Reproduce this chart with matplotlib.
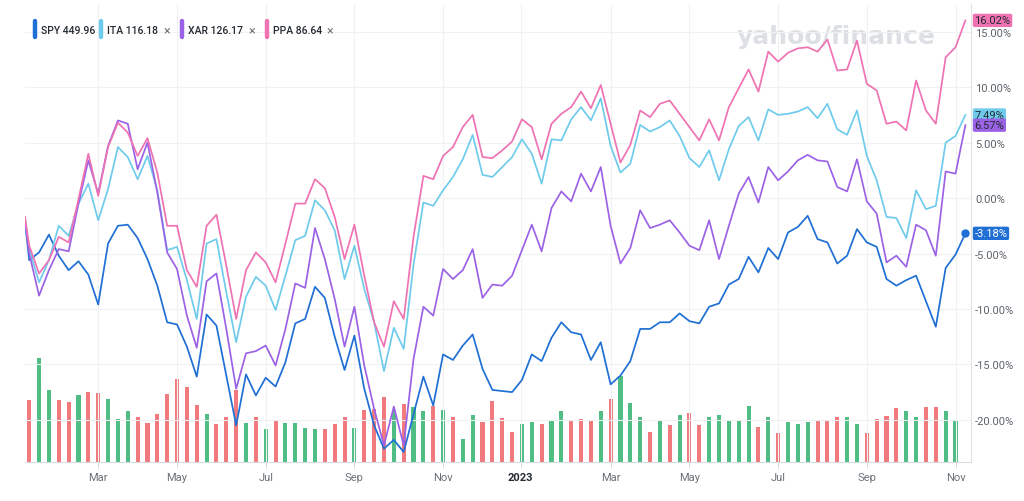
import pandas as pd
import matplotlib.pyplot as plt
from matplotlib.lines import Line2D

# % change since Jan 14 2022, weekly closes (first = Jan 14 2022, last = week of Nov 13 2023)
spy = [-2.1,
       -5.6, -4.9, -3.3, -5.2, -6.5, -5.7, -6.9, -9.6, -4.1, -2.5,
       -2.4, -3.6, -5.5, -7.9, -11.2, -11.4, -13.4, -16.1, -10.5, -11.5,
       -16.0, -20.5, -15.9, -17.8, -16.2, -17.0, -14.8, -11.3, -10.9, -8.0,
       -9.0, -12.5, -15.5, -12.4, -17.2, -20.5, -22.6, -21.8, -22.9, -19.5,
       -16.1, -18.7, -14.1, -14.6, -13.3, -12.3, -15.4, -17.3, -17.4, -17.5,
       -16.4, -14.1, -14.7, -12.6, -11.2, -12.1, -12.3, -14.6, -13.0, -16.8,
       -16.0, -14.7, -11.8, -11.8, -11.2, -11.2, -10.4, -11.1, -11.3, -9.8,
       -9.5, -7.8, -7.3, -5.3, -6.7, -4.5, -5.5, -3.1, -2.6, -1.6,
       -3.7, -4.0, -5.9, -5.2, -2.8, -4.0, -4.4, -7.3, -7.9, -7.4,
       -7.0, -9.3, -11.6, -6.3, -5.1, -3.18]
ita = [-2.0,
       -4.6, -7.6, -5.6, -2.5, -3.4, -0.5, 1.3, -2.0, 0.8, 4.6,
       3.7, 1.7, 3.8, 0.7, -4.7, -4.4, -7.4, -10.9, -4.1, -3.7,
       -8.5, -13.0, -8.9, -7.1, -7.9, -10.1, -7.0, -3.8, -3.4, -0.2,
       -1.1, -2.9, -7.3, -4.3, -8.2, -11.2, -15.6, -11.7, -13.6, -6.0,
       -0.4, -0.7, 0.7, 1.9, 3.5, 5.7, 2.1, 1.9, 2.8, 3.7,
       5.3, 4.0, 1.3, 5.3, 5.2, 7.1, 8.2, 7.0, 9.0, 4.7,
       2.3, 3.1, 6.6, 6.0, 6.4, 7.0, 5.6, 3.6, 2.8, 4.3,
       1.6, 4.4, 6.5, 7.3, 5.2, 8.0, 7.5, 7.6, 7.8, 8.2,
       7.2, 8.5, 6.2, 5.7, 7.9, 3.8, 1.6, -1.7, -1.8, -3.6,
       0.7, -1.0, -0.7, 5.0, 5.6, 7.49]
xar = [-2.0,
       -5.0, -8.8, -6.5, -4.6, -4.8, -0.5, 3.4, 0.4, 4.7, 7.0,
       6.7, 2.6, 5.0, 0.5, -4.9, -6.4, -10.6, -13.5, -7.5, -6.8,
       -11.8, -17.2, -14.0, -13.8, -13.3, -15.1, -11.8, -7.7, -8.1, -2.7,
       -5.5, -9.1, -13.4, -9.8, -15.1, -19.0, -22.3, -18.8, -22.3, -14.5,
       -9.8, -10.6, -6.4, -7.3, -6.5, -4.6, -9.0, -7.8, -7.9, -7.0,
       -4.7, -2.4, -4.8, -0.9, 0.6, -0.3, 2.2, 0.6, 2.8, -2.5,
       -5.9, -4.5, -1.1, -2.7, -2.4, -2.0, -3.1, -4.3, -4.7, -2.0,
       -5.5, -2.5, 0.4, 1.9, -0.4, 2.8, 1.6, 2.4, 3.4, 3.9,
       3.4, 3.3, 1.0, 0.6, 3.5, -0.3, -1.4, -5.8, -5.2, -6.2,
       -2.4, -2.9, -5.2, 2.4, 2.2, 6.57]
ppa = [-1.7,
       -4.3, -6.8, -5.6, -3.5, -4.0, -0.1, 4.0, 0.2, 4.6, 6.8,
       5.9, 3.8, 5.4, 2.3, -2.5, -2.5, -6.5, -8.0, -2.5, -1.5,
       -6.1, -10.9, -6.5, -4.9, -5.8, -7.6, -4.1, -0.5, -0.5, 1.7,
       0.9, -1.7, -5.5, -2.4, -7.0, -11.2, -13.4, -9.3, -10.9, -3.5,
       2.0, 1.7, 3.8, 4.6, 6.4, 7.5, 3.7, 3.6, 4.3, 5.1,
       7.1, 6.4, 3.5, 6.7, 7.6, 8.2, 9.6, 8.1, 10.2, 6.7,
       3.2, 4.8, 7.9, 7.3, 8.5, 8.8, 7.6, 6.4, 5.2, 7.1,
       5.2, 8.2, 9.9, 11.6, 9.6, 13.2, 12.3, 13.1, 13.5, 13.6,
       13.2, 14.3, 11.5, 11.6, 14.2, 10.3, 9.7, 6.7, 6.9, 6.1,
       10.6, 7.9, 6.7, 12.7, 13.6, 16.02]

# SPY weekly volume (millions), and whether the week closed up
volume = [309, 520, 358, 312, 300, 333, 350, 347, 313, 217,
          253, 225, 197, 242, 338, 413, 375, 287, 240, 188,
          225, 358, 197, 227, 163, 212, 195, 195, 172, 163,
          163, 188, 225, 172, 262, 263, 325, 258, 288, 273,
          253, 278, 260, 227, 115, 237, 202, 303, 218, 152,
          190, 202, 190, 207, 257, 210, 215, 207, 253, 315,
          432, 293, 223, 148, 210, 187, 237, 245, 187, 227,
          237, 203, 203, 282, 177, 223, 143, 202, 190, 198,
          212, 207, 223, 223, 190, 145, 215, 232, 270, 257,
          223, 273, 273, 257, 207]
week_up = [0, 1, 1, 0, 0, 1, 0, 0, 1, 1,
           1, 0, 0, 0, 0, 0, 0, 0, 1, 0,
           0, 0, 1, 0, 1, 0, 1, 1, 1, 1,
           0, 0, 0, 1, 0, 0, 0, 1, 0, 1,
           1, 0, 1, 0, 1, 1, 0, 0, 0, 0,
           1, 1, 0, 1, 1, 0, 0, 0, 1, 0,
           1, 1, 1, 0, 1, 0, 1, 0, 0, 1,
           1, 1, 1, 1, 0, 1, 0, 1, 1, 1,
           0, 0, 0, 1, 1, 0, 0, 0, 0, 1,
           1, 0, 0, 1, 1]

tick_dates = ['2022-03-07', '2022-05-02', '2022-07-04', '2022-09-05', '2022-11-07',
              '2023-01-01', '2023-03-06', '2023-05-01', '2023-07-03', '2023-09-04',
              '2023-11-06']
tick_labels = ['Mar', 'May', 'Jul', 'Sep', 'Nov', '2023', 'Mar', 'May', 'Jul', 'Sep', 'Nov']

series = [('SPY', '449.96', spy, '#1f6fd4', 'white'),
          ('ITA', '116.18', ita, '#6fcbec', '#232a31'),
          ('XAR', '126.17', xar, '#9c62e6', '#232a31'),
          ('PPA', '86.64', ppa, '#ef72b3', '#232a31')]

plt.rcParams['font.family'] = ['Roboto', 'DejaVu Sans']

weeks = pd.date_range('2022-01-17', periods=96, freq='W-MON')
dates = [pd.Timestamp('2022-01-14')] + list(weeks)
bar_dates = weeks[:len(volume)]

fig = plt.figure(figsize=(10.24, 5.02), dpi=100)
ax = fig.add_axes([25 / 1024, 39 / 502, 946 / 1024, 458 / 502])
ax2 = ax.twinx()

# volume bars on the twin axis, kept behind the lines
bar_colors = ['#4fbd84' if u else '#f07a7d' for u in week_up]
ax2.bar(bar_dates, volume, width=2.9, color=bar_colors)
ax2.set_ylim(0, 2290)
ax2.set_yticks([])
for s in ax2.spines.values():
    s.set_visible(False)
ax.set_zorder(ax2.get_zorder() + 1)
ax.patch.set_visible(False)

# watermark
fig.text(836 / 1024, 1 - 37 / 502, 'yahoo/finance', ha='center', va='center',
         fontsize=18, fontweight='heavy', color='#dcdfe3', family='DejaVu Sans', zorder=0)

for name, price, vals, col, tcol in series:
    ax.plot(dates, vals, color=col, lw=1.25, zorder=3)
    ax.annotate(f'{vals[-1]:.2f}%', xy=(1.0, vals[-1]), xycoords=('axes fraction', 'data'),
                xytext=(2.5, 0), textcoords='offset points', ha='left', va='center',
                fontsize=8, color=tcol,
                bbox=dict(boxstyle='round,pad=0.15', fc=col, ec='none'),
                annotation_clip=False, zorder=5)
ax.plot(dates[-1], spy[-1], 'o', color='#1f6fd4', ms=5, zorder=4)

ax.set_xlim(pd.Timestamp('2022-01-14'), pd.Timestamp('2023-11-17'))
ax.set_ylim(-23.8, 17.5)

ax.yaxis.tick_right()
ax.set_yticks(range(-20, 16, 5))
ax.set_yticklabels([f'{v:.2f}%' for v in range(-20, 16, 5)])
ax.tick_params(axis='y', length=0, pad=3, labelsize=8, labelcolor='#5b636a')

ax.set_xticks(pd.to_datetime(tick_dates))
ax.set_xticklabels(tick_labels)
ax.tick_params(axis='x', length=4, width=0.8, color='#d8dbde', pad=3,
               labelsize=8, labelcolor='#6b7278')
for lbl in ax.get_xticklabels():
    if lbl.get_text() == '2023':
        lbl.set_fontweight('bold')
        lbl.set_color('#232a31')

ax.grid(True, color='#f0f1f3', lw=0.8)
ax.set_axisbelow(True)
for side in ['top', 'left']:
    ax.spines[side].set_visible(False)
ax.spines['bottom'].set_color('#d8dbde')
ax.spines['right'].set_color('#e0e3e6')

# legend chips along the top
chip_x = [35, 101, 182, 267]
close_x = [None, 167, 252, 330]
for (name, price, vals, col, tcol), cx, xx in zip(series, chip_x, close_x):
    fig.add_artist(Line2D([cx / 1024, cx / 1024], [1 - 22 / 502, 1 - 38 / 502],
                          lw=3.2, color=col, solid_capstyle='round',
                          transform=fig.transFigure))
    fig.text((cx + 6) / 1024, 1 - 31 / 502, f'{name} {price}', ha='left', va='center',
             fontsize=7.5, fontweight='medium', color='#232a31')
    if xx:
        fig.text(xx / 1024, 1 - 31 / 502, '\u00d7', ha='center', va='center',
                 fontsize=9, color='#6b7278')

fig.savefig('out.png', dpi=100)
